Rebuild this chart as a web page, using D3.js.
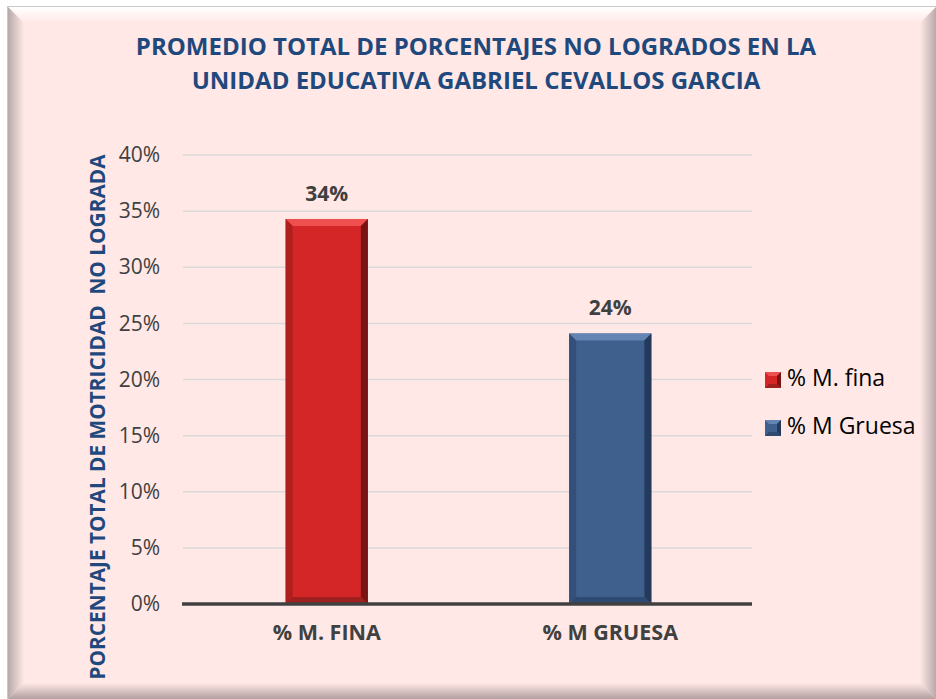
<!DOCTYPE html>
<html><head><meta charset="utf-8">
<script src="https://cdn.jsdelivr.net/npm/d3@7"></script>
<style>body{margin:0;background:#fff;} svg{display:block;font-family:"Open Sans",sans-serif;}</style>
</head><body><svg id="c" width="936" height="699"></svg>
<script>
const categories = ["% M. FINA", "% M GRUESA"];
const values = [0.343, 0.241];
const valueLabels = ["34%", "24%"];
const seriesNames = ["% M. fina", "% M Gruesa"];
const yTicks = [0, 0.05, 0.10, 0.15, 0.20, 0.25, 0.30, 0.35, 0.40];
const titleLines = ["PROMEDIO TOTAL DE PORCENTAJES NO LOGRADOS EN LA", "UNIDAD EDUCATIVA GABRIEL CEVALLOS GARCIA"];
const yTitle = "PORCENTAJE TOTAL DE MOTRICIDAD  NO LOGRADA";

const colors = [
  {main:"#D42626", top:"#EE5050", left:"#B01E1E", right:"#7A1414", bottom:"#A02020"},
  {main:"#3F5F8C", top:"#6485B3", left:"#34507A", right:"#243A5C", bottom:"#2E4A70"}
];
const FONT = "'Open Sans',sans-serif";

const svg = d3.select("#c");
// frame
const fx=8, fy=7, fw=928, fh=692, bv=16;
svg.append("rect").attr("x",fx-1).attr("y",fy-1).attr("width",fw+2).attr("height",fh+2).attr("fill","#c8c8c8");
svg.append("rect").attr("x",fx).attr("y",fy).attr("width",fw).attr("height",fh).attr("fill","#FFE8E6");
const pts = (a)=>a.map(p=>p.join(",")).join(" ");
const defs = svg.append("defs");
function grad(id,x1,y1,x2,y2,c1,c2){const g=defs.append("linearGradient").attr("id",id).attr("x1",x1).attr("y1",y1).attr("x2",x2).attr("y2",y2);g.append("stop").attr("offset",0).attr("stop-color",c1);g.append("stop").attr("offset",1).attr("stop-color",c2);}
grad("gt",0,0,0,1,"#ffffff","#FFE8E6");
grad("gl",0,0,1,0,"#b8a9a9","#FFE8E6");
grad("gr",1,0,0,0,"#b8a9a9","#FFE8E6");
grad("gb",0,1,0,0,"#b0a0a0","#FFE8E6");
svg.append("polygon").attr("points",pts([[fx,fy],[fx+fw,fy],[fx+fw-bv,fy+bv],[fx+bv,fy+bv]])).attr("fill","url(#gt)");
svg.append("polygon").attr("points",pts([[fx,fy],[fx+bv,fy+bv],[fx+bv,fy+fh-bv],[fx,fy+fh]])).attr("fill","url(#gl)");
svg.append("polygon").attr("points",pts([[fx+fw,fy],[fx+fw,fy+fh],[fx+fw-bv,fy+fh-bv],[fx+fw-bv,fy+bv]])).attr("fill","url(#gr)");
svg.append("polygon").attr("points",pts([[fx,fy+fh],[fx+bv,fy+fh-bv],[fx+fw-bv,fy+fh-bv],[fx+fw,fy+fh]])).attr("fill","url(#gb)");

// title
svg.append("text").attr("text-anchor","middle").attr("font-weight","bold").attr("font-size",24).attr("fill","#1F497D")
  .selectAll("tspan").data(titleLines).join("tspan").attr("x",476).attr("y",(d,i)=>55+i*34).text(d=>d);

const x = d3.scaleBand().domain(categories).range([185,752]).paddingInner(0.71).paddingOuter(0.355);
const y = d3.scaleLinear().domain([0,0.40]).range([604,155]);

// gridlines
svg.append("g").selectAll("line").data(yTicks.filter(t=>t>0)).join("line")
  .attr("x1",183).attr("x2",752).attr("y1",d=>y(d)).attr("y2",d=>y(d)).attr("stroke","#D9D9D9").attr("stroke-width",1.5);

// y axis labels
const yAxis = d3.axisLeft(y).tickValues(yTicks).tickFormat(d3.format(".0%")).tickSize(0).tickPadding(0);
const gy = svg.append("g").attr("transform","translate(160,0)").call(yAxis);
gy.select(".domain").remove();
gy.selectAll("text").attr("font-size",21).attr("fill","#404040").attr("font-family",FONT);

// bars with bevel
const bw = x.bandwidth(), b=7;
categories.forEach((c,i)=>{
  const x0=x(c), x1=x0+bw, y0=y(values[i]), y1=y(0);
  const col=colors[i];
  const g=svg.append("g");
  g.append("rect").attr("x",x0).attr("y",y0).attr("width",bw).attr("height",y1-y0).attr("fill",col.main);
  g.append("polygon").attr("points",pts([[x0,y0],[x1,y0],[x1-b,y0+b],[x0+b,y0+b]])).attr("fill",col.top);
  g.append("polygon").attr("points",pts([[x0,y0],[x0+b,y0+b],[x0+b,y1-b],[x0,y1]])).attr("fill",col.left);
  g.append("polygon").attr("points",pts([[x1,y0],[x1,y1],[x1-b,y1-b],[x1-b,y0+b]])).attr("fill",col.right);
  g.append("polygon").attr("points",pts([[x0,y1],[x0+b,y1-b],[x1-b,y1-b],[x1,y1]])).attr("fill",col.bottom);
  svg.append("text").attr("x",x0+bw/2).attr("y",y0-18).attr("text-anchor","middle").attr("font-weight","bold")
    .attr("font-size",21).attr("fill","#404040").text(valueLabels[i]);
});

// x axis
const xAxis = d3.axisBottom(x).tickSize(0).tickPadding(21);
const gx = svg.append("g").attr("transform","translate(0,604)").call(xAxis);
gx.select(".domain").remove();
gx.selectAll("text").attr("font-size",21.5).attr("font-weight","bold").attr("fill","#404040").attr("font-family",FONT);
svg.append("line").attr("x1",182).attr("x2",752).attr("y1",y(0)).attr("y2",y(0)).attr("stroke","#404040").attr("stroke-width",3.5);

// y title
svg.append("text").attr("transform","translate(105,417) rotate(-90)").attr("text-anchor","middle")
  .attr("font-weight","bold").attr("font-size",20.8).attr("fill","#1F497D").style("white-space","pre").text(yTitle);

// legend
const lg = svg.append("g");
seriesNames.forEach((n,i)=>{
  const ly = 372 + i*48, lx=765, s=16, lb=4, col=colors[i];
  lg.append("rect").attr("x",lx).attr("y",ly).attr("width",s).attr("height",s).attr("fill",col.main);
  lg.append("polygon").attr("points",pts([[lx,ly],[lx+s,ly],[lx+s-lb,ly+lb],[lx+lb,ly+lb]])).attr("fill",col.top);
  lg.append("polygon").attr("points",pts([[lx+s,ly],[lx+s,ly+s],[lx+s-lb,ly+s-lb],[lx+s-lb,ly+lb]])).attr("fill",col.right);
  lg.append("polygon").attr("points",pts([[lx,ly+s],[lx+lb,ly+s-lb],[lx+s-lb,ly+s-lb],[lx+s,ly+s]])).attr("fill",col.bottom);
  lg.append("text").attr("x",lx+22).attr("y",ly+14).attr("font-size",23).attr("fill","#000").text(n);
});
</script></body></html>
